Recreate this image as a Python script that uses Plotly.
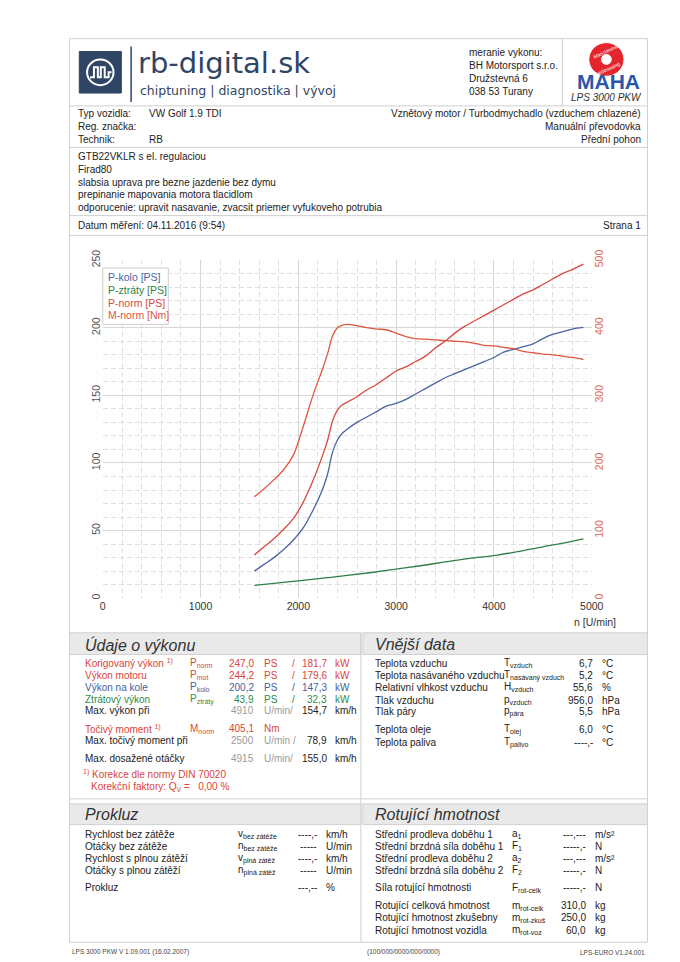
import plotly.graph_objects as go

# ---------------- data ----------------
rpm = [1550, 1650, 1750, 1850, 1950, 2050, 2150, 2250, 2300, 2350, 2400, 2450, 2500,
       2600, 2700, 2800, 2900, 3000, 3100, 3200, 3300, 3400, 3500, 3600, 3700, 3800,
       3900, 4000, 4100, 4200, 4300, 4400, 4500, 4600, 4700, 4800, 4915]
p_kolo = [20, 25, 30, 36, 43, 52, 65, 81, 92, 108, 117, 122, 125,
          130, 134, 138, 142, 144, 147, 151, 155, 159, 163, 166, 169, 172,
          175, 178, 182, 184, 186, 188, 192, 195, 197, 199, 200.2]
p_norm = [32, 38, 44, 51, 59, 71, 87, 106, 117, 131, 139, 143, 145,
          149, 154, 158, 163, 168, 171, 175, 179, 185, 190, 196, 201, 205,
          209, 213, 217, 221, 225, 228, 232, 236, 240, 243, 247]
m_norm = [150, 162, 175, 190, 212, 254, 300, 340, 362, 388, 400, 404, 405,
          403, 400, 398, 397, 392, 387, 384, 383, 382, 381, 380, 379, 377,
          374, 373, 371, 369, 365, 363, 361, 360, 358, 356, 353]
rpm_loss = [1550, 1750, 2000, 2250, 2500, 2750, 3000, 3250, 3500, 3750, 4000, 4250, 4500, 4750, 4915]
p_ztraty = [9.5, 11, 12.8, 14.8, 16.8, 19, 21.5, 24, 26.8, 29.5, 31.5, 34.5, 38, 41.3, 43.9]

x_ticks = [0, 1000, 2000, 3000, 4000, 5000]
y_left_ticks = [0, 50, 100, 150, 200, 250]
y_right_ticks = [0, 100, 200, 300, 400, 500]

legend_names = ["P-kolo [PS]", "P-ztráty [PS]", "P-norm [PS]", "M-norm [Nm]"]

header_address = ["meranie vykonu:", "BH Motorsport s.r.o.", "Družstevná 6", "038 53 Turany"]
vehicle_left = [("Typ vozidla:", "VW Golf 1.9 TDI"), ("Reg. značka:", ""), ("Technik:", "RB")]
vehicle_right = ["Vznětový motor / Turbodmychadlo (vzduchem chlazené)", "Manuální převodovka", "Přední pohon"]
notes = ["GTB22VKLR s el. regulaciou", "Firad80", "slabsia uprava pre bezne jazdenie bez dymu",
         "prepinanie mapovania motora tlacidlom",
         "odporucenie: upravit nasavanie, zvacsit priemer vyfukoveho potrubia"]

# performance table rows: label, symbol, value1, unit1, value2, unit2, color, y
perf_rows = [
    ("Korigovaný výkon <sup>1)</sup>", "P<sub>norm</sub>", "247,0", "PS", "181,7", "kW", "#d9453c", 661),
    ("Výkon motoru", "P<sub>mot</sub>", "244,2", "PS", "179,6", "kW", "#d9453c", 673),
    ("Výkon na kole", "P<sub>kolo</sub>", "200,2", "PS", "147,3", "kW", "#46609e", 685),
    ("Ztrátový výkon", "P<sub>ztráty</sub>", "43,9", "PS", "32,3", "kW", "#2f8a48", 697),
]
perf_speed_rows = [
    ("Max. výkon při", "4910", "U/min/", "154,7", 709),
    ("Max. točivý moment při", "2500", "U/min /", "78,9", 739),
    ("Max. dosažené otáčky", "4915", "U/min/", "155,0", 757),
]
ext_rows = [
    ("Teplota vzduchu", "T<sub>vzduch</sub>", "6,7", "°C", 661),
    ("Teplota nasávaného vzduchu", "T<sub>nasávaný vzduch</sub>", "5,2", "°C", 673),
    ("Relativní vlhkost vzduchu", "H<sub>vzduch</sub>", "55,6", "%", 685),
    ("Tlak vzduchu", "p<sub>vzduch</sub>", "956,0", "hPa", 698),
    ("Tlak páry", "p<sub>pára</sub>", "5,5", "hPa", 710),
    ("Teplota oleje", "T<sub>olej</sub>", "6,0", "°C", 728),
    ("Teplota paliva", "T<sub>palivo</sub>", "----,-", "°C", 741),
]
slip_rows = [
    ("Rychlost bez zátěže", "v<sub>bez zátěže</sub>", "----,-", "km/h", 834),
    ("Otáčky bez zátěže", "n<sub>bez zátěže</sub>", "-----", "U/min", 846),
    ("Rychlost s plnou zátěží", "v<sub>plná zátěž</sub>", "----,-", "km/h", 858),
    ("Otáčky s plnou zátěží", "n<sub>plná zátěž</sub>", "-----", "U/min", 870),
    ("Prokluz", "", "---,--", "%", 888),
]
rot_rows = [
    ("Střední prodleva doběhu 1", "a<sub>1</sub>", "---,---", "m/s²", 834),
    ("Střední brzdná síla doběhu 1", "F<sub>1</sub>", "-----,-", "N", 846),
    ("Střední prodleva doběhu 2", "a<sub>2</sub>", "---,---", "m/s²", 858),
    ("Střední brzdná síla doběhu 2", "F<sub>2</sub>", "-----,-", "N", 870),
    ("Síla rotující hmotnosti", "F<sub>rot-celk</sub>", "-----,-", "N", 888),
    ("Rotující celková hmotnost", "m<sub>rot-celk</sub>", "310,0", "kg", 906),
    ("Rotující hmotnost zkušebny", "m<sub>rot-zkuš</sub>", "250,0", "kg", 918),
    ("Rotující hmotnost vozidla", "m<sub>rot-voz</sub>", "60,0", "kg", 931),
]

# ---------------- layout helpers ----------------
W, H = 680, 962
FONT = "Liberation Sans, Arial, sans-serif"
def px(x): return x / W
def py(y): return 1 - y / H

shapes = []
anns = []

def line(x0, y0, x1, y1, color="#cfcfcf", width=1):
    shapes.append(dict(type="line", xref="paper", yref="paper", x0=px(x0), y0=py(y0),
                       x1=px(x1), y1=py(y1), line=dict(color=color, width=width)))

def rect(x0, y0, x1, y1, fill="rgba(0,0,0,0)", color="#cfcfcf", width=1, layer="above"):
    shapes.append(dict(type="rect", xref="paper", yref="paper", x0=px(x0), y0=py(y0),
                       x1=px(x1), y1=py(y1), fillcolor=fill, layer=layer,
                       line=dict(color=color, width=width)))

def text(t, x, y, size=10, color="#222", anchor="left", family=FONT, yanchor="middle", angle=0):
    anns.append(dict(text=t, x=px(x), y=py(y), xref="paper", yref="paper", showarrow=False,
                     xanchor=anchor, yanchor=yanchor, textangle=angle,
                     font=dict(size=size, color=color, family=family)))

def path(points, close=True, fill="white", color="white", width=1):
    d = "M " + " L ".join(f"{px(a):.5f},{py(b):.5f}" for a, b in points)
    if close:
        d += " Z"
    shapes.append(dict(type="path", xref="paper", yref="paper", path=d,
                       fillcolor=fill if close else None, line=dict(color=color, width=width)))

# ---------------- page frame ----------------
L, R = 68, 659
line(L, 29, R, 29)
line(L, 29, L, 943)
line(R, 29, R, 943)
line(L, 97, R, 97)
line(572, 29, 572, 97)
line(L, 139, R, 139)
line(L, 208, R, 208)
line(L, 228, R, 228)

# ---------------- header: rb-digital logo ----------------
NAVY = "#2f4566"
rect(78, 42, 121, 84, fill=NAVY, color=NAVY)
shapes.append(dict(type="circle", xref="paper", yref="paper", x0=px(86), y0=py(50),
                   x1=px(113), y1=py(76), line=dict(color="white", width=2)))
wave = [(89, 68), (93, 68), (93, 58), (97, 58), (97, 68), (100, 68), (100, 58),
        (104, 58), (104, 68), (108, 68), (108, 63), (111, 63)]
path(wave, close=False, color="white", width=2)
line(131, 37, 131, 93, color=NAVY, width=1.5)
text("rb-digital.sk", 136, 54, size=29, color=NAVY, family="DejaVu Sans, sans-serif")
text("chiptuning | diagnostika | vývoj", 138, 81, size=12.5, color=NAVY, family="DejaVu Sans, sans-serif")

for i, t in enumerate(header_address):
    text(t, 474, 43 + 13 * i, size=10, color="#222")

# MAHA logo
shapes.append(dict(type="circle", xref="paper", yref="paper", x0=px(599), y0=py(33),
                   x1=px(635), y1=py(67), fillcolor="#e4262c", line=dict(color="white", width=1)))
shapes.append(dict(type="circle", xref="paper", yref="paper", x0=px(612), y0=py(45),
                   x1=px(622), y1=py(55), fillcolor="white", line=dict(color="white", width=1)))
text("Maschinenbau", 619, 40, size=5, color="white", anchor="center", angle=-25)
text("Haldenwang", 618, 60, size=5, color="white", anchor="center", angle=-25)
text("<b>MAHA</b>", 619, 72, size=21, color="#2c57a8", anchor="center", family="Liberation Sans Narrow, Liberation Sans, Arial")
text("<i>LPS 3000 PKW</i>", 617, 89, size=10, color="#333", anchor="center")

# ---------------- vehicle info ----------------
for i, (lab, val) in enumerate(vehicle_left):
    text(lab, 75, 105 + 13 * i, size=10)
    text(val, 147, 105 + 13 * i, size=10)
for i, t in enumerate(vehicle_right):
    text(t, 654, 105 + 13 * i, size=10, anchor="right")
for i, t in enumerate(notes):
    text(t, 75, 148 + 13 * i, size=10)
text("Datum měření: 04.11.2016 (9:54)", 75, 218, size=10)
text("Strana 1", 654, 218, size=10, anchor="right")

# ---------------- chart ----------------
fig = go.Figure()
C_KOLO, C_ZTR, C_NORM, C_M = "#4b63a3", "#2f7f45", "#d9483e", "#e0563f"
fig.add_trace(go.Scatter(x=rpm_loss, y=p_ztraty, mode="lines", name=legend_names[1],
                         line=dict(color=C_ZTR, width=1.3, shape="spline")))
fig.add_trace(go.Scatter(x=rpm, y=p_kolo, mode="lines", name=legend_names[0],
                         line=dict(color=C_KOLO, width=1.3, shape="spline")))
fig.add_trace(go.Scatter(x=rpm, y=p_norm, mode="lines", name=legend_names[2],
                         line=dict(color=C_NORM, width=1.3, shape="spline")))
fig.add_trace(go.Scatter(x=rpm, y=m_norm, mode="lines", name=legend_names[3], yaxis="y2",
                         line=dict(color=C_M, width=1.3, shape="spline")))

GRID = "#d6d6d6"
fig.update_layout(
    xaxis=dict(domain=[px(102), px(602)], range=[0, 5000], tickvals=x_ticks,
               showgrid=True, gridcolor=GRID, zeroline=False, showline=False, ticks="",
               tickfont=dict(size=10.5, color="#333", family=FONT),
               minor=dict(dtick=200, showgrid=True, gridcolor="#e0e0e0", griddash="5px,3px")),
    yaxis=dict(domain=[py(595), py(253)], range=[0, 250], tickvals=y_left_ticks,
               showgrid=True, gridcolor=GRID, zeroline=False, showline=False, ticks="",
               tickangle=-90, tickfont=dict(size=10.5, color="#555", family=FONT),
               minor=dict(dtick=10, showgrid=True, gridcolor="#e0e0e0", griddash="5px,3px")),
    yaxis2=dict(overlaying="y", side="right", range=[0, 500], tickvals=y_right_ticks,
                showgrid=False, zeroline=False, showline=False, ticks="", tickangle=-90,
                tickfont=dict(size=10.5, color="#e06550", family=FONT)),
)
text("n [U/min]", 629, 619, size=10.5, color="#333", anchor="right")

# legend box (text only, like the reference)
rect(102, 261, 169, 318, fill="white", color="#cccccc")
leg_colors = [C_KOLO, C_ZTR, C_NORM, C_M]
for i, (nm, c) in enumerate(zip(legend_names, leg_colors)):
    text(nm, 105, 270 + 13 * i, size=10.5, color=c)

# ---------------- bottom panels ----------------
MID = 366
BAND = "#e9e9e9"
rect(L, 630, MID, 652, fill=BAND, color="#d0d0d0")
rect(MID + 2, 630, R, 652, fill=BAND, color="#d0d0d0")
line(MID, 630, MID, 943)
line(L, 798, R, 798)
rect(L, 803, MID, 824, fill=BAND, color="#d0d0d0")
rect(MID + 2, 803, R, 824, fill=BAND, color="#d0d0d0")
line(L, 943, R, 943)

TITLE = dict(size=16, color="#333")
text("<i>Údaje o výkonu</i>", 82, 642, **TITLE)
text("<i>Vnější data</i>", 378, 642, **TITLE)
text("<i>Prokluz</i>", 82, 814, **TITLE)
text("<i>Rotující hmotnost</i>", 378, 814, **TITLE)

S = 10
GRAY = "#9a9a9a"
for lab, sym, v1, u1, v2, u2, col, y in perf_rows:
    text(lab, 82, y, size=S, color=col)
    text(sym, 189, y, size=S, color=col)
    text(v1, 259, y, size=S, color=col, anchor="right")
    text(u1, 265, y, size=S, color=col)
    text("/", 293, y, size=S, color=col)
    text(v2, 333, y, size=S, color=col, anchor="right")
    text(u2, 337, y, size=S, color=col)
for lab, rpmv, u, v, y in perf_speed_rows:
    text(lab, 82, y, size=S, color="#222")
    text(rpmv, 259, y, size=S, color=GRAY, anchor="right")
    text(u, 265, y, size=S, color=GRAY)
    text(v, 333, y, size=S, color="#222", anchor="right")
    text("km/h", 337, y, size=S, color="#222")
text("Točivý moment <sup>1)</sup>", 82, 727, size=S, color="#d9453c")
text("M<sub>norm</sub>", 189, 727, size=S, color="#d9453c")
text("405,1", 259, 727, size=S, color="#d9453c", anchor="right")
text("Nm", 265, 727, size=S, color="#d9453c")
text("<sup>1)</sup> Korekce dle normy DIN 70020", 80, 773, size=S, color="#d9453c")
text("Korekční faktory: Q<sub>V</sub> =   0,00 %", 88, 786, size=S, color="#d9453c")

for lab, sym, v, u, y in ext_rows:
    text(lab, 378, y, size=S)
    text(sym, 510, y, size=S)
    text(v, 605, y, size=S, anchor="right")
    text(u, 610, y, size=S)

for lab, sym, v, u, y in slip_rows:
    text(lab, 82, y, size=S)
    if sym:
        text(sym, 238, y, size=S)
    text(v, 323, y, size=S, anchor="right")
    text(u, 328, y, size=S)

for lab, sym, v, u, y in rot_rows:
    text(lab, 378, y, size=S)
    text(sym, 518, y, size=S)
    text(v, 598, y, size=S, anchor="right")
    text(u, 603, y, size=S)

# footer
text("LPS 3000 PKW V 1.09.001 (16.02.2007)", 68, 953, size=6.5, color="#444")
text("(100/000/0000/000/0000)", 370, 953, size=6.5, color="#444")
text("LPS-EURO V1.24.001", 659, 953, size=6.5, color="#444", anchor="right")

fig.update_layout(
    width=W, height=H, margin=dict(l=0, r=0, t=0, b=0),
    paper_bgcolor="white", plot_bgcolor="white", showlegend=False,
    shapes=shapes, annotations=anns, font=dict(family=FONT),
)
fig.write_html("out.html", config={"displayModeBar": False},
               post_script="document.body.style.margin='0';"
                           "document.documentElement.style.overflow='hidden';")
